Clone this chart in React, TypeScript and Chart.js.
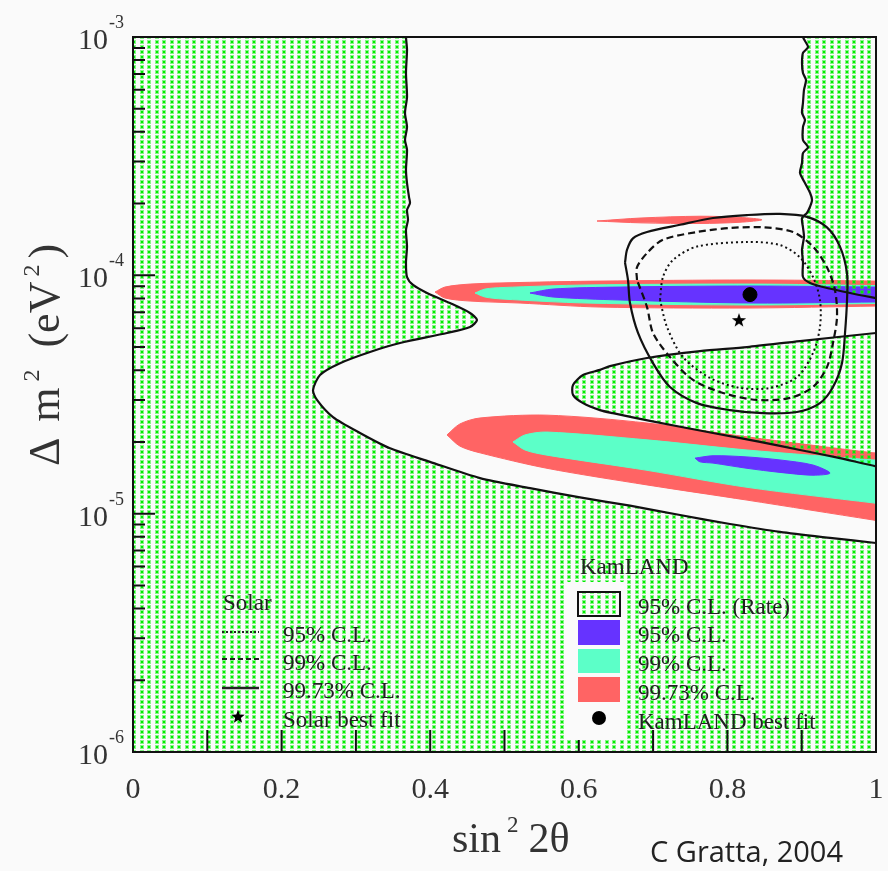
import React, { useEffect, useRef } from 'react';
import { Chart, registerables } from 'chart.js';

Chart.register(...registerables);

type P = [number, number];

// ---- axis ticks ----
const X_TICKS = [0.1, 0.2, 0.3, 0.4, 0.5, 0.6, 0.7, 0.8, 0.9];
const Y_DECADES = [1e-6, 1e-5, 1e-4, 1e-3];
const Y_DECADE_EXP = ['-6', '-5', '-4', '-3'];
const Y_MINOR_MULT = [2, 3, 4, 5, 6, 7, 8, 9];

// ---- KamLAND rate 95% C.L. boundaries (excluded side is dotted) ----
const RATE_LEFT_BOUNDARY: P[] = [
  [0.3674, 1.15e-3], [0.3674, 1.0e-3], [0.3688, 8.82e-4], [0.3674, 7.06e-4], [0.3688, 5.6e-4],
  [0.3661, 4.8e-4], [0.3688, 4.19e-4], [0.3661, 3.7e-4], [0.3688, 3.36e-4], [0.3674, 2.77e-4],
  [0.3688, 2.44e-4], [0.3715, 2.13e-4], [0.3728, 2.01e-4], [0.3688, 1.88e-4], [0.3701, 1.71e-4],
  [0.3674, 1.55e-4], [0.3688, 1.32e-4], [0.3674, 1.13e-4], [0.3688, 9.84e-5], [0.3769, 9.11e-5],
  [0.3957, 8.43e-5], [0.4266, 7.65e-5], [0.4536, 6.95e-5], [0.463, 6.49e-5], [0.4536, 6.07e-5],
  [0.4226, 5.73e-5], [0.3594, 5.2e-5], [0.319, 4.77e-5], [0.2786, 4.28e-5], [0.2517, 3.82e-5],
  [0.2423, 3.3e-5], [0.2476, 3.0e-5], [0.2692, 2.54e-5], [0.3055, 2.18e-5], [0.3459, 1.88e-5],
  [0.3997, 1.65e-5], [0.467, 1.41e-5], [0.5343, 1.28e-5], [0.6016, 1.17e-5], [0.6689, 1.08e-5],
  [0.7362, 9.87e-6], [0.8035, 9.05e-6], [0.8708, 8.38e-6], [0.9381, 7.91e-6], [1.0, 7.53e-6],
  [1.03, 7.3e-6],
];
const RATE_LEFT_OUTSIDE: P[] = [[1.05, 5e-7], [-0.05, 5e-7], [-0.05, 1.15e-3], [0.3674, 1.15e-3]];

const RATE_RIGHT_BOUNDARY: P[] = [
  [0.9017, 1.15e-3], [0.9017, 1.0e-3], [0.9085, 9.08e-4], [0.9017, 8.57e-4], [0.9004, 7.78e-4],
  [0.9017, 7.06e-4], [0.9058, 6.6e-4], [0.9031, 6.0e-4], [0.9017, 5.29e-4], [0.9004, 4.8e-4],
  [0.9044, 4.49e-4], [0.9017, 4.19e-4], [0.9017, 3.7e-4], [0.9085, 3.45e-4], [0.9017, 3.26e-4],
  [0.9004, 2.96e-4], [0.8977, 2.69e-4], [0.9044, 2.44e-4], [0.9112, 2.22e-4], [0.9139, 2.07e-4],
  [0.9112, 1.94e-4], [0.9071, 1.83e-4], [0.9004, 1.74e-4], [0.9017, 1.59e-4], [0.9031, 1.45e-4],
  [0.9004, 1.28e-4], [0.9017, 1.13e-4], [0.9017, 9.84e-5], [0.9112, 9.28e-5], [0.9287, 8.93e-5],
  [0.965, 8.43e-5], [1.0, 8.03e-5], [1.03, 7.8e-5],
];
const RATE_RIGHT_OUTSIDE: P[] = [[1.05, 1.15e-3], [0.9017, 1.15e-3]];

const RATE_ISLAND: P[] = [
  [1.03, 5.85e-5], [1.0, 5.73e-5], [0.8977, 5.3e-5], [0.8264, 5.0e-5], [0.7631, 4.81e-5],
  [0.6918, 4.5e-5], [0.642, 4.16e-5], [0.6285, 4.01e-5], [0.6057, 3.82e-5], [0.5922, 3.47e-5],
  [0.5922, 3.15e-5], [0.6057, 2.91e-5], [0.6285, 2.72e-5], [0.646, 2.64e-5], [0.6958, 2.45e-5],
  [0.7806, 2.18e-5], [0.8439, 2.0e-5], [0.8977, 1.85e-5], [0.9515, 1.71e-5], [1.0, 1.58e-5],
  [1.03, 1.53e-5], [1.03, 5.85e-5],
];

// ---- KamLAND spectral fit regions ----
const KL_RED_UPPER: P[] = [
  [0.4065, 8.51e-5], [0.4199, 8.93e-5], [0.4536, 9.19e-5], [0.5209, 9.33e-5], [0.6285, 9.46e-5],
  [0.8264, 9.56e-5], [1.0, 9.46e-5], [1.0323, 9.37e-5], [1.0323, 7.43e-5], [1.0, 7.43e-5],
  [0.8264, 7.29e-5], [0.6285, 7.36e-5], [0.5209, 7.65e-5], [0.4536, 7.8e-5], [0.4199, 8.03e-5],
  [0.4065, 8.51e-5],
];
const KL_CYAN_UPPER: P[] = [
  [0.4603, 8.43e-5], [0.4738, 8.76e-5], [0.498, 8.89e-5], [0.611, 9.11e-5], [0.8345, 9.19e-5],
  [1.0, 9.06e-5], [1.0323, 9.06e-5], [1.0323, 7.62e-5], [1.0, 7.62e-5], [0.8345, 7.51e-5],
  [0.611, 7.65e-5], [0.498, 7.95e-5], [0.4738, 8.11e-5], [0.4603, 8.43e-5],
];
const KL_BLUE_UPPER: P[] = [
  [0.5343, 8.43e-5], [0.5653, 8.76e-5], [0.6555, 8.93e-5], [0.8345, 9.02e-5], [1.0, 8.93e-5],
  [1.0323, 8.93e-5], [1.0323, 7.73e-5], [1.0, 7.73e-5], [0.8345, 7.65e-5], [0.6555, 7.88e-5],
  [0.5653, 8.11e-5], [0.5343, 8.43e-5],
];
const KL_RED_SLIVER: P[] = [
  [0.6245, 1.69e-4], [0.6837, 1.74e-4], [0.7631, 1.77e-4], [0.817, 1.75e-4], [0.8466, 1.71e-4],
  [0.817, 1.67e-4], [0.7631, 1.65e-4], [0.6837, 1.66e-4], [0.6245, 1.69e-4],
];
const KL_RED_LOWER: P[] = [
  [0.4226, 2.14e-5], [0.4401, 2.38e-5], [0.467, 2.52e-5], [0.5572, 2.59e-5], [0.6918, 2.4e-5],
  [0.8264, 2.1e-5], [0.996, 1.8e-5], [1.0323, 1.75e-5], [1.0323, 9.05e-6], [0.996, 9.41e-6],
  [0.8264, 1.14e-5], [0.6918, 1.32e-5], [0.5572, 1.55e-5], [0.467, 1.8e-5], [0.4401, 1.92e-5],
  [0.4226, 2.14e-5],
];
const KL_CYAN_LOWER: P[] = [
  [0.5114, 2.0e-5], [0.5276, 2.14e-5], [0.5572, 2.2e-5], [0.6918, 2.04e-5], [0.8264, 1.85e-5],
  [0.996, 1.68e-5], [1.0323, 1.65e-5], [1.0323, 1.08e-5], [0.996, 1.11e-5], [0.8264, 1.29e-5],
  [0.6918, 1.52e-5], [0.5572, 1.76e-5], [0.5276, 1.85e-5], [0.5114, 2.0e-5],
];
const KL_BLUE_LOWER: P[] = [
  [0.7564, 1.71e-5], [0.7806, 1.75e-5], [0.8264, 1.73e-5], [0.8708, 1.68e-5], [0.9152, 1.6e-5],
  [0.9381, 1.48e-5], [0.9152, 1.45e-5], [0.8708, 1.49e-5], [0.8264, 1.55e-5], [0.7806, 1.63e-5],
  [0.7631, 1.65e-5], [0.7564, 1.71e-5],
];

// ---- Solar contours ----
const SOLAR_95: P[] = [
  [0.7093, 7.88e-5], [0.7133, 9.84e-5], [0.7268, 1.16e-4], [0.7591, 1.32e-4], [0.8264, 1.38e-4],
  [0.8708, 1.34e-4], [0.8977, 1.19e-4], [0.9152, 9.84e-5], [0.9246, 7.88e-5], [0.9246, 6.07e-5],
  [0.9152, 4.72e-5], [0.8937, 3.74e-5], [0.8573, 3.37e-5], [0.817, 3.37e-5], [0.7766, 3.71e-5],
  [0.7402, 4.54e-5], [0.7187, 6.07e-5], [0.7093, 7.88e-5],
];
const SOLAR_99: P[] = [
  [0.6783, 9.56e-5], [0.6783, 1.08e-4], [0.6918, 1.24e-4], [0.7133, 1.41e-4], [0.7591, 1.52e-4],
  [0.8035, 1.58e-4], [0.8479, 1.59e-4], [0.8883, 1.52e-4], [0.9152, 1.32e-4], [0.934, 1.08e-4],
  [0.9448, 8.68e-5], [0.9475, 6.68e-5], [0.9421, 5.2e-5], [0.934, 4.12e-5], [0.9152, 3.4e-5],
  [0.8843, 3.06e-5], [0.8398, 3.0e-5], [0.7941, 3.21e-5], [0.7537, 3.64e-5], [0.7227, 4.54e-5],
  [0.6999, 5.73e-5], [0.6918, 7.36e-5], [0.6783, 9.56e-5],
];
const SOLAR_9973: P[] = [
  [0.6622, 1.13e-4], [0.6649, 1.28e-4], [0.6729, 1.43e-4], [0.6918, 1.52e-4], [0.7362, 1.63e-4],
  [0.7806, 1.74e-4], [0.8264, 1.79e-4], [0.8708, 1.81e-4], [0.9071, 1.76e-4], [0.934, 1.59e-4],
  [0.9515, 1.32e-4], [0.961, 1.02e-4], [0.961, 7.88e-5], [0.9583, 5.73e-5], [0.9542, 4.28e-5],
  [0.9421, 3.4e-5], [0.9246, 2.91e-5], [0.8937, 2.67e-5], [0.8479, 2.64e-5], [0.8035, 2.72e-5],
  [0.7591, 2.91e-5], [0.7227, 3.4e-5], [0.6999, 4.28e-5], [0.6797, 5.73e-5], [0.6689, 7.65e-5],
  [0.6662, 9.56e-5], [0.6622, 1.13e-4],
];

const KAMLAND_BEST: P[] = [[0.8304, 8.3e-5]];
const SOLAR_BEST: P[] = [[0.8156, 6.49e-5]];

const RED = '#ff6464';
const CYAN = '#5cffc8';
const BLUE = '#6633ff';
const SERIF = '"Liberation Serif", "Times New Roman", serif';

const toXY = (pts: P[]) => pts.map(([x, y]) => ({ x, y }));

function makeDotPattern(ctx: CanvasRenderingContext2D) {
  const c = document.createElement('canvas');
  c.width = 15;
  c.height = 5;
  const g = c.getContext('2d')!;
  g.fillStyle = 'rgba(20,235,20,0.5)';
  g.fillRect(5, 0, 4, 4);
  g.fillRect(12, 0, 3, 4);
  g.fillRect(0, 0, 1, 4);
  g.fillStyle = '#00ee00';
  g.fillRect(6, 1, 2, 2);
  g.fillRect(13, 1, 2, 2);
  return ctx.createPattern(c, 'repeat')!;
}

function starPath(ctx: CanvasRenderingContext2D, cx: number, cy: number, R: number, r: number) {
  ctx.beginPath();
  for (let i = 0; i < 10; i++) {
    const a = -Math.PI / 2 + (i * Math.PI) / 5;
    const rad = i % 2 === 0 ? R : r;
    ctx.lineTo(cx + rad * Math.cos(a), cy + rad * Math.sin(a));
  }
  ctx.closePath();
}

function makeStar() {
  const c = document.createElement('canvas');
  c.width = 16;
  c.height = 16;
  const g = c.getContext('2d')!;
  g.fillStyle = '#000';
  starPath(g, 8, 8.5, 7.5, 3);
  g.fill();
  return c;
}

type Part = { t: string; f: number; dy: number; gap?: number };
function drawParts(ctx: CanvasRenderingContext2D, parts: Part[], x: number, y: number) {
  let cx = x;
  for (const p of parts) {
    cx += p.gap || 0;
    ctx.font = `${p.f}px ${SERIF}`;
    ctx.fillText(p.t, cx, y + p.dy);
    cx += ctx.measureText(p.t).width;
  }
  return cx - x;
}
function partsWidth(ctx: CanvasRenderingContext2D, parts: Part[]) {
  let w = 0;
  for (const p of parts) {
    ctx.font = `${p.f}px ${SERIF}`;
    w += (p.gap || 0) + ctx.measureText(p.t).width;
  }
  return w;
}

export default function App() {
  const ref = useRef<HTMLCanvasElement>(null);

  useEffect(() => {
    const canvas = ref.current!;
    const ctx0 = canvas.getContext('2d')!;
    const pattern = makeDotPattern(ctx0);
    const star = makeStar();

    const decor = {
      id: 'decor',
      beforeDraw(chart: any) {
        const { ctx, width, height } = chart;
        ctx.save();
        ctx.fillStyle = '#fafafa';
        ctx.fillRect(0, 0, width, height);
        ctx.restore();
      },
      afterDatasetsDraw(chart: any) {
        const { ctx, chartArea: a, scales } = chart;
        const xs = scales.x;
        const ys = scales.y;
        ctx.save();

        // frame
        ctx.strokeStyle = '#111';
        ctx.lineWidth = 2;
        ctx.setLineDash([]);
        ctx.strokeRect(a.left, a.top, a.right - a.left, a.bottom - a.top);
        ctx.beginPath();
        X_TICKS.forEach((v) => {
          const px = xs.getPixelForValue(v);
          ctx.moveTo(px, a.bottom);
          ctx.lineTo(px, a.bottom - 22);
        });
        Y_DECADES.forEach((d) => {
          const py = ys.getPixelForValue(d);
          ctx.moveTo(a.left, py);
          ctx.lineTo(a.left + 22, py);
        });
        Y_DECADES.slice(0, 3).forEach((d) =>
          Y_MINOR_MULT.forEach((m) => {
            const py = ys.getPixelForValue(d * m);
            ctx.moveTo(a.left, py);
            ctx.lineTo(a.left + 12, py);
          })
        );
        ctx.stroke();

        // y tick labels 10^n
        ctx.fillStyle = '#333';
        ctx.textBaseline = 'alphabetic';
        Y_DECADES.forEach((d, i) => {
          const py = ys.getPixelForValue(d);
          ctx.font = `30px ${SERIF}`;
          ctx.textAlign = 'right';
          ctx.fillText('10', 108, py + 12);
          ctx.font = `18px ${SERIF}`;
          ctx.textAlign = 'left';
          ctx.fillText(Y_DECADE_EXP[i], 109, py - 9);
        });
        ctx.textAlign = 'left';

        // y axis title
        const yParts: Part[] = [
          { t: 'Δ', f: 44, dy: 0 },
          { t: 'm', f: 44, dy: 0, gap: 16 },
          { t: '2', f: 24, dy: -20, gap: 6 },
          { t: '(eV', f: 44, dy: 0, gap: 22 },
          { t: '2', f: 24, dy: -20, gap: 5 },
          { t: ')', f: 44, dy: 0, gap: 6 },
        ];
        const yw = partsWidth(ctx, yParts);
        ctx.save();
        ctx.translate(59, 0);
        ctx.rotate(-Math.PI / 2);
        drawParts(ctx, yParts, -(355 + yw / 2), 0);
        ctx.restore();

        // x axis title
        drawParts(
          ctx,
          [
            { t: 'sin', f: 42, dy: 0 },
            { t: '2', f: 23, dy: -20, gap: 6 },
            { t: '2θ', f: 42, dy: 0, gap: 10 },
          ],
          452,
          852
        );

        // credit
        ctx.font = '29px "Open Sans", sans-serif';
        ctx.fillStyle = '#222';
        ctx.fillText('C Gratta, 2004', 650, 862);

        // Solar legend
        ctx.fillStyle = '#222';
        ctx.font = `23px ${SERIF}`;
        ctx.fillText('Solar', 223, 610);
        ctx.fillText('95% C.L.', 283, 642);
        ctx.fillText('99% C.L.', 283, 670);
        ctx.fillText('99.73% C.L.', 283, 698);
        ctx.fillText('Solar best fit', 283, 727);
        ctx.strokeStyle = '#222';
        ctx.lineWidth = 1.8;
        ctx.setLineDash([2, 2]);
        ctx.beginPath();
        ctx.moveTo(222, 632);
        ctx.lineTo(259, 632);
        ctx.stroke();
        ctx.lineWidth = 2.2;
        ctx.setLineDash([5, 3]);
        ctx.beginPath();
        ctx.moveTo(222, 659);
        ctx.lineTo(259, 659);
        ctx.stroke();
        ctx.setLineDash([]);
        ctx.lineWidth = 2.5;
        ctx.beginPath();
        ctx.moveTo(222, 688);
        ctx.lineTo(259, 688);
        ctx.stroke();
        ctx.fillStyle = '#000';
        starPath(ctx, 238, 717, 7, 3);
        ctx.fill();

        // KamLAND legend
        ctx.fillStyle = '#fafafa';
        ctx.fillRect(566, 582, 58, 158);
        ctx.fillStyle = pattern;
        ctx.fillRect(578, 592, 42, 24);
        ctx.strokeStyle = '#111';
        ctx.lineWidth = 2;
        ctx.strokeRect(578, 592, 42, 24);
        ctx.fillStyle = BLUE;
        ctx.fillRect(578, 620, 42, 25);
        ctx.fillStyle = CYAN;
        ctx.fillRect(578, 649, 42, 24);
        ctx.fillStyle = RED;
        ctx.fillRect(578, 677, 42, 25);
        ctx.fillStyle = '#000';
        ctx.beginPath();
        ctx.arc(599, 718, 7, 0, Math.PI * 2);
        ctx.fill();
        ctx.fillStyle = '#222';
        ctx.font = `23px ${SERIF}`;
        ctx.fillText('KamLAND', 580, 574);
        ctx.fillText('95% C.L. (Rate)', 638, 614);
        ctx.fillText('95% C.L.', 638, 642);
        ctx.fillText('99% C.L.', 638, 671);
        ctx.fillText('99.73% C.L.', 638, 700);
        ctx.fillText('KamLAND best fit', 638, 729);

        ctx.restore();
      },
    };

    const region = (label: string, pts: P[], color: string, order: number) => ({
      label,
      data: toXY(pts),
      fill: 'shape',
      backgroundColor: color,
      borderColor: color,
      borderWidth: 1,
      tension: 0.3,
      capBezierPoints: false,
      pointRadius: 0,
      order,
    });
    const rate = (label: string, pts: P[]) => ({
      label,
      data: toXY(pts),
      fill: 'shape',
      backgroundColor: pattern,
      borderColor: '#111',
      borderWidth: 2.2,
      tension: 0.25,
      capBezierPoints: false,
      pointRadius: 0,
      order: 5,
    });
    const contour = (label: string, pts: P[], dash: number[], width: number) => ({
      label,
      data: toXY(pts),
      fill: false,
      borderColor: '#111',
      borderWidth: width,
      borderDash: dash,
      tension: 0.3,
      capBezierPoints: false,
      pointRadius: 0,
      order: 3,
    });

    const chart = new Chart(canvas, {
      type: 'line',
      data: {
        datasets: [
          region('KamLAND 99.73% C.L. (upper)', KL_RED_UPPER, RED, 10),
          region('KamLAND 99.73% C.L. (sliver)', KL_RED_SLIVER, RED, 10),
          region('KamLAND 99.73% C.L. (lower)', KL_RED_LOWER, RED, 10),
          region('KamLAND 99% C.L. (upper)', KL_CYAN_UPPER, CYAN, 9),
          region('KamLAND 99% C.L. (lower)', KL_CYAN_LOWER, CYAN, 9),
          region('KamLAND 95% C.L. (upper)', KL_BLUE_UPPER, BLUE, 8),
          region('KamLAND 95% C.L. (lower)', KL_BLUE_LOWER, BLUE, 8),
          rate('Rate excluded (left)', [...RATE_LEFT_BOUNDARY, ...RATE_LEFT_OUTSIDE]),
          rate('Rate excluded (right)', [...RATE_RIGHT_BOUNDARY, ...RATE_RIGHT_OUTSIDE]),
          rate('Rate excluded (island)', RATE_ISLAND),
          contour('Solar 95% C.L.', SOLAR_95, [2, 3], 2),
          contour('Solar 99% C.L.', SOLAR_99, [7, 4], 2.2),
          contour('Solar 99.73% C.L.', SOLAR_9973, [], 2.2),
          {
            label: 'KamLAND best fit',
            data: toXY(KAMLAND_BEST),
            showLine: false,
            pointRadius: 7,
            pointStyle: 'circle',
            backgroundColor: '#000',
            borderColor: '#000',
            order: 1,
          },
          {
            label: 'Solar best fit',
            data: toXY(SOLAR_BEST),
            showLine: false,
            pointStyle: star,
            pointRadius: 8,
            order: 1,
          },
        ] as any,
      },
      options: {
        animation: false,
        responsive: false,
        maintainAspectRatio: false,
        devicePixelRatio: 1,
        events: [],
        layout: { padding: { left: 0, right: 12, top: 37, bottom: 0 } },
        plugins: {
          legend: { display: false },
          tooltip: { enabled: false },
          filler: { propagate: false },
        },
        scales: {
          x: {
            type: 'linear',
            min: 0,
            max: 1,
            position: 'bottom',
            grid: { display: false, drawTicks: false },
            border: { display: false },
            ticks: {
              stepSize: 0.2,
              padding: 20,
              color: '#333',
              autoSkip: false,
              maxRotation: 0,
              font: { family: SERIF, size: 30 },
              callback: (v: any) => String(Math.round(Number(v) * 10) / 10),
            },
            afterFit: (s: any) => {
              s.height = 119;
              s.paddingLeft = 0;
              s.paddingRight = 0;
            },
          },
          y: {
            type: 'logarithmic',
            min: 1e-6,
            max: 1e-3,
            position: 'left',
            grid: { display: false, drawTicks: false },
            border: { display: false },
            ticks: { display: false },
            afterFit: (s: any) => {
              s.width = 133;
              s.paddingTop = 0;
              s.paddingBottom = 0;
            },
          },
        },
      } as any,
      plugins: [decor],
    });

    return () => chart.destroy();
  }, []);

  return (
    <div style={{ position: 'absolute', left: 0, top: 0, width: 888, height: 871, background: '#fafafa' }}>
      <canvas ref={ref} width={888} height={871} style={{ display: 'block', width: 888, height: 871 }} />
    </div>
  );
}
